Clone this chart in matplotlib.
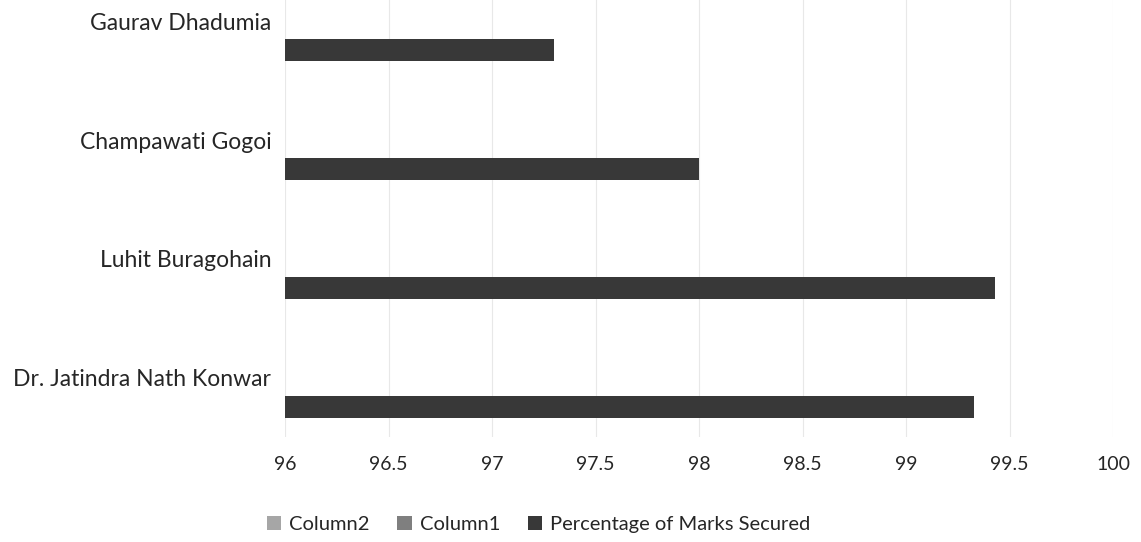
import numpy as np
import matplotlib.pyplot as plt

plt.rcParams['font.family'] = ['Lato', 'DejaVu Sans']

names = ['Dr. Jatindra Nath Konwar', 'Luhit Buragohain', 'Champawati Gogoi', 'Gaurav Dhadumia']
marks = [99.33, 99.43, 98.0, 97.3]
column1 = [np.nan] * 4
column2 = [np.nan] * 4
xticks = [96, 96.5, 97, 97.5, 98, 98.5, 99, 99.5, 100]

fig = plt.figure(figsize=(11.41, 5.42), dpi=100)
ax = fig.add_axes([0.2498, 0.194, 0.7257, 0.806])

y = np.arange(len(names))
h = 0.185
# three series slots, only the last one has data
ax.barh(y + h * 1.3, np.array(column2) - 96, height=h, left=96, color='#a6a6a6', label='Column2')
ax.barh(y, np.array(column1) - 96, height=h, left=96, color='#7f7f7f', label='Column1')
ax.barh(y - 0.245, np.array(marks) - 96, height=h, left=96, color='#383838',
        label='Percentage of Marks Secured')

ax.set_xlim(96, 100)
ax.set_ylim(-0.5, 3.18)
ax.set_xticks(xticks)
ax.set_xticklabels([f'{t:g}' for t in xticks])
ax.set_yticks(y)
ax.set_yticklabels(names)
ax.tick_params(axis='both', length=0, colors='#262626')
ax.tick_params(axis='x', pad=14, labelsize=14)
ax.tick_params(axis='y', pad=10, labelsize=16.5)
for s in ax.spines.values():
    s.set_visible(False)
ax.grid(axis='x', color='#e8e8e8', linewidth=0.8)
ax.set_axisbelow(True)

fig.legend(loc='center', bbox_to_anchor=(0.472, 0.032), ncol=3, frameon=False,
           fontsize=14.5, handlelength=0.7, handleheight=0.7, handletextpad=0.4,
           columnspacing=1.4, labelcolor='#262626')

fig.savefig('out.png', dpi=100)
